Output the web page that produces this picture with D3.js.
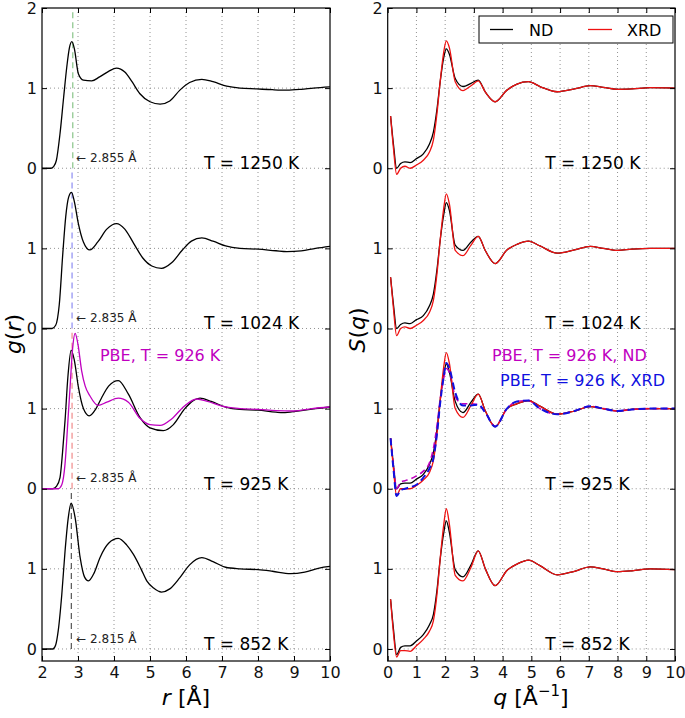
<!DOCTYPE html>
<html>
<head>
<meta charset="utf-8">
<script src="https://cdn.jsdelivr.net/npm/d3@7"></script>
<style>
  html, body { margin: 0; padding: 0; background: #fff; }
  svg { display: block; }
  text { font-family: "DejaVu Sans", sans-serif; }
</style>
</head>
<body>
<svg id="chart" width="685" height="718"></svg>
<script>
// ---------------- DATA ----------------
const tempLabels = ["T = 1250 K", "T = 1024 K", "T = 925 K", "T = 852 K"];
const panelOffsets = [6, 4, 2, 0];
const peakPositions = [2.855, 2.835, 2.835, 2.815];
const peakLabels = ["2.855 Å", "2.835 Å", "2.835 Å", "2.815 Å"];
const yTickValues = [0, 1, 2, 3, 4, 5, 6, 7, 8];
const yTickLabels = ["0", "1", "0", "1", "0", "1", "0", "1", "2"];
const xTicksR = [2, 3, 4, 5, 6, 7, 8, 9, 10];
const xTicksQ = [0, 1, 2, 3, 4, 5, 6, 7, 8, 9, 10];

// g(r)
const gr1250_r = [2.0,2.25,2.32,2.4,2.5,2.6,2.69,2.76,2.83,2.9,3.01,3.15,3.38,3.6,3.85,4.07,4.3,4.5,4.72,5.0,5.28,5.55,5.83,6.1,6.44,6.75,7.13,7.5,7.96,8.4,8.8,9.2,9.54,10.0];
const gr1250   = [0,0,0.02,0.1,0.43,0.88,1.27,1.5,1.58,1.49,1.18,1.1,1.09,1.14,1.21,1.25,1.2,1.08,0.93,0.83,0.80,0.84,0.975,1.07,1.11,1.08,1.025,1.0,0.99,0.98,0.975,0.985,1.0,1.015];

const gr1024_r = [2.0,2.28,2.38,2.48,2.58,2.66,2.74,2.82,2.9,3.01,3.15,3.33,3.55,3.8,4.07,4.3,4.55,4.8,5.05,5.32,5.6,5.9,6.15,6.44,6.75,7.1,7.5,8.0,8.5,8.8,9.2,9.6,10.0];
const gr1024   = [0,0,0.04,0.3,0.95,1.4,1.64,1.70,1.58,1.31,1.08,0.98,1.08,1.24,1.31,1.24,1.06,0.88,0.78,0.75,0.82,0.98,1.09,1.13,1.09,1.03,1.0,0.99,0.97,0.96,0.97,1.0,1.025];

const gr925_r = [2.0,2.3,2.4,2.5,2.57,2.64,2.72,2.81,2.9,3.01,3.15,3.31,3.5,3.65,3.85,4.12,4.4,4.72,5.0,5.37,5.65,5.95,6.2,6.39,6.7,7.1,7.5,8.0,8.5,8.7,9.1,9.6,10.0];
const gr925   = [0,0,0.03,0.14,0.45,0.85,1.4,1.73,1.6,1.27,1.0,0.91,1.0,1.13,1.28,1.35,1.18,0.89,0.76,0.725,0.8,0.99,1.1,1.13,1.09,1.02,0.99,0.98,0.955,0.95,0.97,1.0,1.02];

const grPBE926_r = [2.0,2.45,2.55,2.64,2.72,2.78,2.85,2.92,3.0,3.1,3.2,3.33,3.56,3.8,4.12,4.4,4.72,5.0,5.28,5.6,5.95,6.3,6.6,7.0,7.5,8.0,8.5,9.0,9.5,10.0];
const grPBE926   = [0,0,0.05,0.31,0.85,1.27,1.75,1.94,1.8,1.475,1.28,1.16,1.04,1.08,1.13,1.08,0.88,0.8,0.79,0.87,1.03,1.12,1.09,1.03,1.0,0.99,0.975,0.97,1.0,1.02];

const gr852_r = [2.0,2.3,2.38,2.45,2.55,2.64,2.73,2.81,2.92,3.06,3.18,3.29,3.45,3.61,3.85,4.12,4.35,4.54,4.75,4.91,5.1,5.32,5.55,5.83,6.1,6.44,6.75,7.1,7.5,8.0,8.4,8.9,9.3,9.7,10.0];
const gr852   = [0,0,0.05,0.225,0.68,1.22,1.64,1.82,1.64,1.14,0.9,0.85,0.95,1.14,1.32,1.38,1.3,1.18,1.0,0.85,0.76,0.71,0.75,0.89,1.05,1.14,1.09,1.02,1.0,0.99,0.97,0.94,0.96,1.01,1.03];

// S(q)
const sq_q = [0.1,0.2,0.31,0.45,0.6,0.78,1.0,1.24,1.45,1.59,1.72,1.82,1.95,2.04,2.15,2.35,2.62,2.9,3.15,3.4,3.74,4.15,4.5,4.9,5.3,5.9,6.5,7.05,7.5,8.0,8.5,9.14,10.0];
const sq1250_ND  = [0.65,0.3,0.0,0.06,0.08,0.07,0.12,0.18,0.3,0.45,0.75,1.06,1.38,1.49,1.42,1.12,1.02,1.06,1.1,0.95,0.83,0.975,1.05,1.08,1.02,0.955,0.99,1.03,1.01,0.985,0.99,1.005,1.0];
const sq1250_XRD = [0.65,0.25,-0.075,0.0,0.025,0.0,0.04,0.1,0.2,0.35,0.7,1.06,1.45,1.59,1.5,1.08,0.97,1.03,1.09,0.95,0.83,0.975,1.05,1.08,1.02,0.955,0.99,1.03,1.01,0.985,0.99,1.005,1.0];
const sq1024_ND  = [0.64,0.3,0.0,0.05,0.07,0.06,0.11,0.16,0.28,0.43,0.75,1.08,1.42,1.57,1.47,1.04,0.975,1.08,1.15,0.97,0.81,0.98,1.05,1.09,1.03,0.94,0.98,1.025,1.0,0.975,0.99,1.0,1.0];
const sq1024_XRD = [0.64,0.25,-0.09,0.0,0.02,0.0,0.04,0.1,0.2,0.35,0.7,1.08,1.5,1.68,1.55,0.975,0.91,1.04,1.15,0.97,0.81,0.98,1.05,1.09,1.03,0.94,0.98,1.025,1.0,0.975,0.99,1.0,1.0];
const sq925_ND   = [0.63,0.3,0.0,0.06,0.07,0.07,0.12,0.18,0.3,0.45,0.75,1.08,1.42,1.56,1.45,1.09,0.95,1.08,1.18,0.97,0.775,1.0,1.06,1.10,1.03,0.93,0.97,1.025,1.0,0.97,0.99,1.0,1.0];
const sq925_XRD  = [0.63,0.25,-0.09,0.0,0.0,0.0,0.04,0.11,0.2,0.35,0.7,1.08,1.52,1.70,1.56,1.0,0.89,1.04,1.18,0.97,0.775,1.0,1.06,1.10,1.03,0.93,0.97,1.025,1.0,0.97,0.99,1.0,1.0];
const sqPBE926_ND  = [0.63,0.3,0.0,0.08,0.1,0.12,0.16,0.22,0.32,0.5,0.8,1.1,1.38,1.5,1.45,1.15,1.06,1.06,1.05,0.95,0.78,1.0,1.09,1.1,1.0,0.93,0.97,1.03,1.0,0.97,0.99,1.0,1.0];
const sqPBE926_XRD = [0.63,0.25,-0.09,-0.02,0.0,0.02,0.05,0.14,0.25,0.38,0.7,1.05,1.4,1.57,1.5,1.2,1.04,1.04,1.05,0.95,0.775,1.0,1.09,1.1,1.0,0.93,0.97,1.03,1.0,0.97,0.99,1.0,1.0];
const sq852_ND   = [0.62,0.25,-0.07,0.02,0.04,0.04,0.1,0.18,0.3,0.43,0.75,1.1,1.45,1.60,1.45,0.99,0.9,1.05,1.225,1.0,0.79,0.98,1.06,1.11,1.04,0.925,0.97,1.025,1.0,0.965,0.975,1.0,0.99];
const sq852_XRD  = [0.62,0.2,-0.1,-0.02,-0.02,-0.03,0.04,0.12,0.22,0.35,0.7,1.1,1.55,1.75,1.55,0.92,0.85,1.02,1.225,1.0,0.79,0.98,1.06,1.11,1.04,0.925,0.97,1.025,1.0,0.965,0.975,1.0,0.99];

// ---------------- STYLE / LAYOUT ----------------
const peakLineColors = ["#88c488", "#8c8cf2", "#f08a8a", "#555555"];
const C_ND = "#000000", C_XRD = "#ee1111", C_M = "#bf00bf", C_B = "#1010e0";

const svg = d3.select("#chart");
const y = d3.scaleLinear().domain([-0.15, 8]).range([661, 8]);
const xL = d3.scaleLinear().domain([2, 10]).range([42, 330]);
const xR = d3.scaleLinear().domain([0, 10]).range([387.7, 675]);

function zipPts(xs, ys, off) { return xs.map((v, i) => [v, ys[i] + off]); }

function drawFrame(x, xticks) {
  const g = svg.append("g");
  const [x0, x1] = x.range();
  const [yb, yt] = y.range();
  g.selectAll("line.vg").data(xticks.slice(1, -1)).join("line")
    .attr("x1", d => x(d)).attr("x2", d => x(d)).attr("y1", yt).attr("y2", yb)
    .attr("stroke", "#777").attr("stroke-width", 0.8).attr("stroke-dasharray", "1,3");
  g.selectAll("line.hg").data(yTickValues.slice(0, -1)).join("line")
    .attr("x1", x0).attr("x2", x1).attr("y1", d => y(d)).attr("y2", d => y(d))
    .attr("stroke", "#777").attr("stroke-width", 0.8).attr("stroke-dasharray", "1,3");
  return g;
}

function drawAxes(x, xticks) {
  const g = svg.append("g");
  const [x0, x1] = x.range();
  const [yb, yt] = y.range();
  const ax1 = d3.axisBottom(x).tickValues(xticks).tickSize(-5).tickFormat(d3.format("d")).tickPadding(6);
  g.append("g").attr("transform", `translate(0,${yb})`).call(ax1);
  const ax2 = d3.axisTop(x).tickValues(xticks).tickSize(-5).tickFormat("");
  g.append("g").attr("transform", `translate(0,${yt})`).call(ax2);
  const ay1 = d3.axisLeft(y).tickValues(yTickValues).tickSize(-5)
    .tickFormat((d, i) => yTickLabels[i]).tickPadding(5);
  g.append("g").attr("transform", `translate(${x0},0)`).call(ay1);
  const ay2 = d3.axisRight(y).tickValues(yTickValues).tickSize(-5).tickFormat("");
  g.append("g").attr("transform", `translate(${x1},0)`).call(ay2);
  g.selectAll(".domain").remove();
  g.selectAll(".tick line").attr("stroke", "#000").attr("stroke-width", 1);
  g.selectAll(".tick text").attr("font-size", 16).attr("fill", "#111")
    .attr("font-family", "DejaVu Sans, sans-serif");
  g.append("rect").attr("x", x0).attr("y", yt).attr("width", x1 - x0).attr("height", yb - yt)
    .attr("fill", "none").attr("stroke", "#000").attr("stroke-width", 1.2);
}

const lineL = d3.line().x(d => xL(d[0])).y(d => y(d[1])).curve(d3.curveMonotoneX);
const lineR = d3.line().x(d => xR(d[0])).y(d => y(d[1])).curve(d3.curveMonotoneX);

// ---------- LEFT PANEL ----------
drawFrame(xL, xTicksR);
const grSeries = [[gr1250_r, gr1250], [gr1024_r, gr1024], [gr925_r, gr925], [gr852_r, gr852]];
const gl = svg.append("g");
peakPositions.forEach((p, i) => {
  gl.append("line").attr("x1", xL(p)).attr("x2", xL(p))
    .attr("y1", y(panelOffsets[i])).attr("y2", y(panelOffsets[i] + 2))
    .attr("stroke", peakLineColors[i]).attr("stroke-width", 1.2).attr("stroke-dasharray", "6,4");
});
grSeries.forEach((s, i) => {
  gl.append("path").attr("d", lineL(zipPts(s[0], s[1], panelOffsets[i])))
    .attr("fill", "none").attr("stroke", C_ND).attr("stroke-width", 1.3);
});
gl.append("path").attr("d", lineL(zipPts(grPBE926_r, grPBE926, panelOffsets[2])))
  .attr("fill", "none").attr("stroke", C_M).attr("stroke-width", 1.3);

tempLabels.forEach((t, i) => {
  gl.append("text").attr("x", xL(6.5)).attr("y", y(panelOffsets[i]) + 1)
    .attr("font-size", 17).attr("fill", "#000").text(t);
  gl.append("text").attr("x", xL(2.95)).attr("y", y(panelOffsets[i] + 0.08))
    .attr("font-size", 12).attr("fill", "#222").text("← " + peakLabels[i]);
});
gl.append("text").attr("x", xL(3.61)).attr("y", y(3.59))
  .attr("font-size", 16).attr("fill", C_M).text("PBE, T = 926 K");

drawAxes(xL, xTicksR);

// ---------- RIGHT PANEL ----------
drawFrame(xR, xTicksQ);
const gr = svg.append("g");
const sqND = [sq1250_ND, sq1024_ND, sq925_ND, sq852_ND];
const sqXRD = [sq1250_XRD, sq1024_XRD, sq925_XRD, sq852_XRD];
sqND.forEach((s, i) => {
  gr.append("path").attr("d", lineR(zipPts(sq_q, s, panelOffsets[i])))
    .attr("fill", "none").attr("stroke", C_ND).attr("stroke-width", 1.3);
  if (i === 2) {
    gr.append("path").attr("d", lineR(zipPts(sq_q, sqPBE926_ND, panelOffsets[i])))
      .attr("fill", "none").attr("stroke", C_M).attr("stroke-width", 1.6).attr("stroke-dasharray", "6,4");
  }
  gr.append("path").attr("d", lineR(zipPts(sq_q, sqXRD[i], panelOffsets[i])))
    .attr("fill", "none").attr("stroke", C_XRD).attr("stroke-width", 1.3);
  if (i === 2) {
    gr.append("path").attr("d", lineR(zipPts(sq_q, sqPBE926_XRD, panelOffsets[i])))
      .attr("fill", "none").attr("stroke", C_B).attr("stroke-width", 2).attr("stroke-dasharray", "7,4");
  }
});
tempLabels.forEach((t, i) => {
  gr.append("text").attr("x", xR(5.48)).attr("y", y(panelOffsets[i]) + 1)
    .attr("font-size", 17).attr("fill", "#000").text(t);
});
gr.append("text").attr("x", xR(3.63)).attr("y", y(3.59))
  .attr("font-size", 16).attr("fill", C_M).text("PBE, T = 926 K, ND");
gr.append("text").attr("x", xR(3.91)).attr("y", y(3.28))
  .attr("font-size", 16).attr("fill", C_B).text("PBE, T = 926 K, XRD");

drawAxes(xR, xTicksQ);

// legend
const lg = svg.append("g");
lg.append("rect").attr("x", 479).attr("y", 16).attr("width", 194).attr("height", 27)
  .attr("fill", "#fff").attr("stroke", "#000").attr("stroke-width", 1);
lg.append("line").attr("x1", 490).attr("x2", 513).attr("y1", 29.5).attr("y2", 29.5)
  .attr("stroke", C_ND).attr("stroke-width", 1.3);
lg.append("text").attr("x", 529).attr("y", 35.5).attr("font-size", 16).text("ND");
lg.append("line").attr("x1", 588).attr("x2", 612).attr("y1", 29.5).attr("y2", 29.5)
  .attr("stroke", C_XRD).attr("stroke-width", 1.3);
lg.append("text").attr("x", 627).attr("y", 35.5).attr("font-size", 16).text("XRD");

// axis labels
const serif = "DejaVu Serif, serif";
const xl1 = svg.append("text").attr("x", 186).attr("y", 705).attr("text-anchor", "middle")
  .attr("font-family", serif).attr("font-size", 22);
xl1.append("tspan").attr("font-style", "italic").text("r");
xl1.append("tspan").text(" [Å]");

const xl2 = svg.append("text").attr("x", 531).attr("y", 705).attr("text-anchor", "middle")
  .attr("font-family", serif).attr("font-size", 22);
xl2.append("tspan").attr("font-style", "italic").text("q");
xl2.append("tspan").text(" [Å");
xl2.append("tspan").attr("font-size", 15).attr("dy", -9).text("−1");
xl2.append("tspan").attr("dy", 9).text("]");

const yl1 = svg.append("text").attr("transform", "translate(21,334) rotate(-90)")
  .attr("text-anchor", "middle").attr("font-family", serif).attr("font-size", 22);
yl1.append("tspan").attr("font-style", "italic").text("g");
yl1.append("tspan").text("(");
yl1.append("tspan").attr("font-style", "italic").text("r");
yl1.append("tspan").text(")");

const yl2 = svg.append("text").attr("transform", "translate(365,330) rotate(-90)")
  .attr("text-anchor", "middle").attr("font-family", serif).attr("font-size", 22);
yl2.append("tspan").attr("font-style", "italic").text("S");
yl2.append("tspan").text("(");
yl2.append("tspan").attr("font-style", "italic").text("q");
yl2.append("tspan").text(")");
</script>
</body>
</html>
